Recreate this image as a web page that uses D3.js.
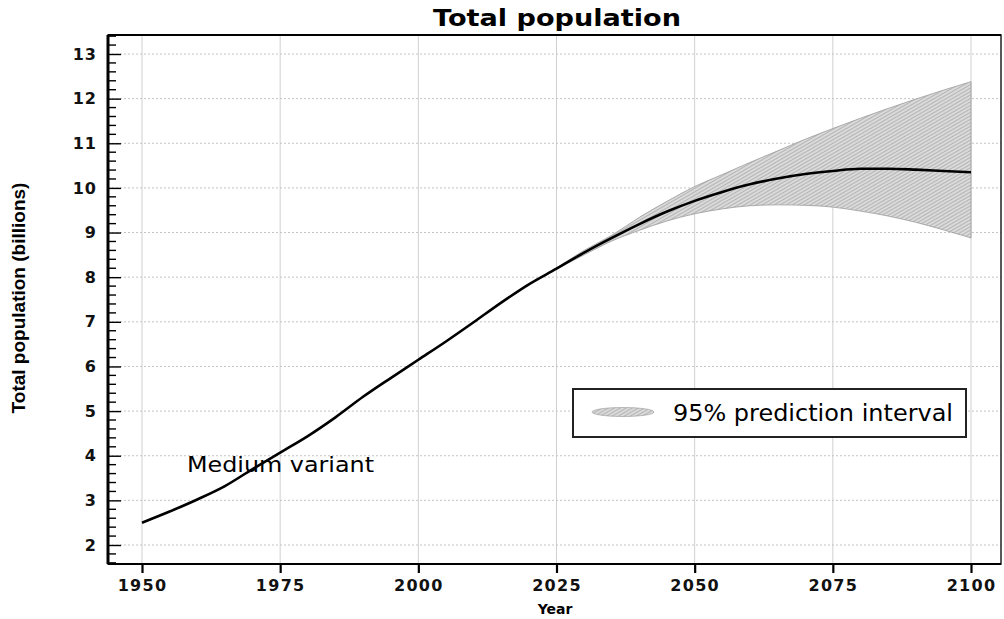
<!DOCTYPE html>
<html><head><meta charset="utf-8">
<script src="https://cdn.jsdelivr.net/npm/d3@7"></script>
<style>body{margin:0;background:#fff}svg{display:block}</style>
</head><body><svg id="c" width="1004" height="619"></svg>
<script>
const years = [1950,1955,1960,1965,1970,1975,1980,1985,1990,1995,2000,2005,2010,2015,2020,2025,2030,2035,2040,2045,2050,2055,2060,2065,2070,2075,2080,2085,2090,2095,2100];
const medium = [2.50,2.75,3.02,3.32,3.70,4.07,4.44,4.86,5.32,5.74,6.15,6.56,6.99,7.43,7.84,8.19,8.55,8.88,9.19,9.47,9.71,9.91,10.08,10.21,10.31,10.38,10.43,10.43,10.41,10.38,10.35];
const piYears = [2024,2030,2035,2040,2045,2050,2055,2060,2065,2070,2075,2080,2085,2090,2095,2100];
const piUpper = [8.12,8.60,8.94,9.34,9.70,10.03,10.30,10.57,10.83,11.09,11.33,11.56,11.78,11.99,12.19,12.38];
const piLower = [8.12,8.50,8.81,9.05,9.26,9.42,9.53,9.60,9.62,9.61,9.57,9.48,9.37,9.23,9.06,8.88];
const xTicks = [1950,1975,2000,2025,2050,2075,2100];
const yTicks = [2,3,4,5,6,7,8,9,10,11,12,13];
const title = "Total population";
const xTitle = "Year";
const yTitle = "Total population (billions)";
const legendLabel = "95% prediction interval";
const lineLabel = "Medium variant";

const svg = d3.select("#c");
const L=108,R=1001,T=35,B=564;
const x = d3.scaleLinear().domain([1950,2100]).range([142,971]);
const y = d3.scaleLinear().domain([2,13]).range([545,54]);
const wide = "'DejaVu Sans', Verdana, sans-serif";
const narrow = "'Liberation Sans', Arial, Helvetica, sans-serif";

const defs = svg.append("defs");
const pat = defs.append("pattern").attr("id","hatch").attr("patternUnits","userSpaceOnUse")
  .attr("width",3).attr("height",3).attr("patternTransform","rotate(60)");
pat.append("rect").attr("width",3).attr("height",3).attr("fill","#dadada");
pat.append("line").attr("x1",0).attr("y1",0).attr("x2",0).attr("y2",3).attr("stroke","#8f8f8f").attr("stroke-width",1);
defs.append("clipPath").attr("id","clip").append("rect").attr("x",L).attr("y",T).attr("width",R-L).attr("height",B-T);

// grid
svg.append("g").selectAll("line").data(xTicks).join("line")
  .attr("x1",d=>x(d)).attr("x2",d=>x(d)).attr("y1",T).attr("y2",B)
  .attr("stroke","#d0d0d0").attr("stroke-width",1);
svg.append("g").selectAll("line").data(yTicks).join("line")
  .attr("x1",L).attr("x2",R).attr("y1",d=>y(d)).attr("y2",d=>y(d))
  .attr("stroke","#c4c4c4").attr("stroke-width",1).attr("stroke-dasharray","2,2");

// band
const band = piYears.map((d,i)=>({year:d,lo:piLower[i],hi:piUpper[i]}));
const area = d3.area().x(d=>x(d.year)).y0(d=>y(d.lo)).y1(d=>y(d.hi)).curve(d3.curveMonotoneX);
svg.append("path").datum(band).attr("d",area).attr("fill","url(#hatch)")
  .attr("stroke","#9a9a9a").attr("stroke-width",0.8).attr("clip-path","url(#clip)");

// medium line
const med = years.map((d,i)=>({year:d,v:medium[i]}));
svg.append("path").datum(med)
  .attr("d",d3.line().x(d=>x(d.year)).y(d=>y(d.v)).curve(d3.curveMonotoneX))
  .attr("fill","none").attr("stroke","#000").attr("stroke-width",2.6);

// frame
svg.append("rect").attr("x",L).attr("y",T).attr("width",R-L).attr("height",B-T)
  .attr("fill","none").attr("stroke","#222").attr("stroke-width",1.5);
svg.append("line").attr("x1",L).attr("x2",L).attr("y1",T).attr("y2",B).attr("stroke","#000").attr("stroke-width",3);
svg.append("line").attr("x1",L).attr("x2",R).attr("y1",B).attr("y2",B).attr("stroke","#000").attr("stroke-width",2.2);
svg.append("line").attr("x1",L).attr("x2",R).attr("y1",T).attr("y2",T).attr("stroke","#000").attr("stroke-width",2.2);

// x axis
const xAxis = d3.axisBottom(x).tickValues(xTicks).tickFormat(d3.format("d")).tickSize(9).tickPadding(7);
const gx = svg.append("g").attr("transform",`translate(0,${B})`).call(xAxis);
gx.select(".domain").remove();
gx.selectAll(".tick line").attr("stroke","#000").attr("stroke-width",2.2);
gx.selectAll("text").attr("font-family",wide).attr("font-size",16).attr("font-weight","bold")
  .attr("letter-spacing",1.3).attr("fill","#111");

// y axis minor ticks (inside)
const minor = d3.range(8,68).map(i=>i/5).filter(v=>Math.abs(v-Math.round(v))>1e-6);
svg.append("g").selectAll("line").data(minor).join("line")
  .attr("x1",L).attr("x2",L+8).attr("y1",d=>y(d)).attr("y2",d=>y(d))
  .attr("stroke","#000").attr("stroke-width",1.4);
const yAxis = d3.axisLeft(y).tickValues(yTicks).tickFormat(d3.format("d")).tickSize(-13).tickPadding(11);
const gy = svg.append("g").attr("transform",`translate(${L},0)`).call(yAxis);
gy.select(".domain").remove();
gy.selectAll(".tick line").attr("stroke","#000").attr("stroke-width",1.4);
gy.selectAll("text").attr("font-family",wide).attr("font-size",16).attr("font-weight","bold")
  .attr("letter-spacing",1).attr("fill","#111");

// titles
svg.append("text").attr("x",557).attr("y",26).attr("text-anchor","middle")
  .attr("font-family",wide).attr("font-size",23).attr("font-weight","bold")
  .attr("textLength",248).attr("lengthAdjust","spacingAndGlyphs").text(title);
svg.append("text").attr("x",555).attr("y",614).attr("text-anchor","middle")
  .attr("font-family",wide).attr("font-size",14).attr("font-weight","bold").text(xTitle);
svg.append("text").attr("transform",`translate(25,${(183+413)/2}) rotate(-90)`).attr("text-anchor","middle")
  .attr("font-family",narrow).attr("font-size",19).attr("font-weight","bold").text(yTitle);

// labels
svg.append("text").attr("x",187).attr("y",472).attr("font-family",wide).attr("font-size",21)
  .attr("textLength",187).attr("lengthAdjust","spacingAndGlyphs").text(lineLabel);

// legend
svg.append("rect").attr("x",573).attr("y",389).attr("width",393).attr("height",48)
  .attr("fill","#fff").attr("stroke","#222").attr("stroke-width",2);
svg.append("ellipse").attr("cx",623).attr("cy",412).attr("rx",31).attr("ry",4.5)
  .attr("fill","url(#hatch)").attr("stroke","#999").attr("stroke-width",0.6);
svg.append("text").attr("x",673).attr("y",421).attr("font-family",wide).attr("font-size",22.5)
  .attr("textLength",280).attr("lengthAdjust","spacingAndGlyphs").text(legendLabel);
</script></body></html>
